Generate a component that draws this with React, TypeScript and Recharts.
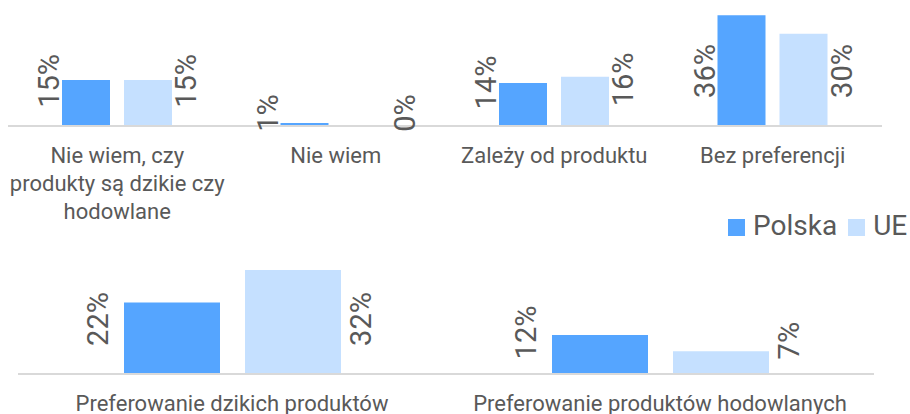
import { BarChart, Bar, XAxis, YAxis, LabelList, Legend } from 'recharts';

const topCategories = ['Nie wiem, czy\nprodukty są dzikie czy\nhodowlane', 'Nie wiem', 'Zależy od produktu', 'Bez preferencji'];
const topPolska = [15, 1, 14, 36];
const topUE = [15, 0, 16, 30];

const bottomCategories = ['Preferowanie dzikich produktów', 'Preferowanie produktów hodowlanych'];
const bottomPolska = [22, 12];
const bottomUE = [32, 7];

const FONT = 'Roboto, "Noto Sans", sans-serif';
const TEXT = '#595959';
const BLUE = '#55A5FF';
const LIGHT = '#C5E0FF';

const topData = topCategories.map((name, i) => ({ name, polska: topPolska[i], ue: topUE[i] }));
const bottomData = bottomCategories.map((name, i) => ({ name, polska: bottomPolska[i], ue: bottomUE[i] }));

function CategoryTick({ x, y, payload }: any) {
  const lines = String(payload.value).split('\n');
  return (
    <text x={x} y={y + 37} textAnchor="middle" fill={TEXT} fontSize={22} fontFamily={FONT}>
      {lines.map((l, i) => (
        <tspan key={i} x={x} dy={i === 0 ? 0 : 28}>{l}</tspan>
      ))}
    </text>
  );
}

// rotated value label beside the bar: left of it for Polska, right of it for UE
const sideLabel = (side: 'left' | 'right', gap: number) => (props: any) => {
  const { x, y, width, height, value } = props;
  const base = y + height;
  const lift = height < 10 ? 13 : Math.min(55, height / 2 + 22);
  const cx = side === 'left' ? x - gap : x + width + gap;
  const cy = base - lift;
  return (
    <text
      x={cx}
      y={cy}
      transform={`rotate(-90 ${cx} ${cy})`}
      textAnchor="middle"
      dominantBaseline="central"
      fill={TEXT}
      fontSize={29}
      fontFamily={FONT}
    >
      {`${value}%`}
    </text>
  );
};

function LegendContent({ payload }: any) {
  return (
    <div style={{ display: 'flex', alignItems: 'center', fontFamily: FONT, fontSize: 28, color: TEXT, lineHeight: '30px' }}>
      {(payload || []).map((p: any, i: number) => (
        <span key={i} style={{ display: 'flex', alignItems: 'center', marginRight: i === 0 ? 11 : 0 }}>
          <span style={{ display: 'inline-block', width: 17, height: 17, background: p.color, marginRight: 8, marginTop: 3 }} />
          {p.value}
        </span>
      ))}
    </div>
  );
}

export default function App() {
  return (
    <div style={{ position: 'absolute', left: 0, top: 0, width: 910, height: 414, background: '#fff', overflow: 'hidden' }}>
      <div style={{ position: 'absolute', left: 0, top: 0 }}>
        <BarChart width={910} height={230} data={topData} margin={{ top: 3, right: 28, bottom: 0, left: 8 }} barSize={48} barGap={14}>
          <XAxis
            dataKey="name"
            interval={0}
            height={104}
            tickLine={false}
            tickSize={0}
            tickMargin={0}
            axisLine={{ stroke: '#D9D9D9', strokeWidth: 2 }}
            tick={<CategoryTick />}
          />
          <YAxis hide domain={[0, 40]} />
          <Legend
            verticalAlign="middle"
            align="center"
            layout="horizontal"
            content={<LegendContent />}
            wrapperStyle={{ top: 211, left: 728, width: 182 }}
          />
          <Bar dataKey="polska" name="Polska" fill={BLUE} isAnimationActive={false}>
            <LabelList dataKey="polska" content={sideLabel('left', 13)} />
          </Bar>
          <Bar dataKey="ue" name="UE" fill={LIGHT} minPointSize={0.01} isAnimationActive={false}>
            <LabelList dataKey="ue" content={sideLabel('right', 14)} />
          </Bar>
        </BarChart>
      </div>
      <div style={{ position: 'absolute', left: 0, top: 230 }}>
        <BarChart width={910} height={184} data={bottomData} margin={{ top: 14, right: 36, bottom: 0, left: 18 }} barSize={96} barGap={25}>
          <XAxis
            dataKey="name"
            interval={0}
            height={40}
            tickLine={false}
            tickSize={0}
            tickMargin={0}
            axisLine={{ stroke: '#D9D9D9', strokeWidth: 2 }}
            tick={<CategoryTick />}
          />
          <YAxis hide domain={[0, 40]} />
          <Bar dataKey="polska" name="Polska" fill={BLUE} isAnimationActive={false}>
            <LabelList dataKey="polska" content={sideLabel('left', 26)} />
          </Bar>
          <Bar dataKey="ue" name="UE" fill={LIGHT} isAnimationActive={false}>
            <LabelList dataKey="ue" content={sideLabel('right', 20)} />
          </Bar>
        </BarChart>
      </div>
    </div>
  );
}
